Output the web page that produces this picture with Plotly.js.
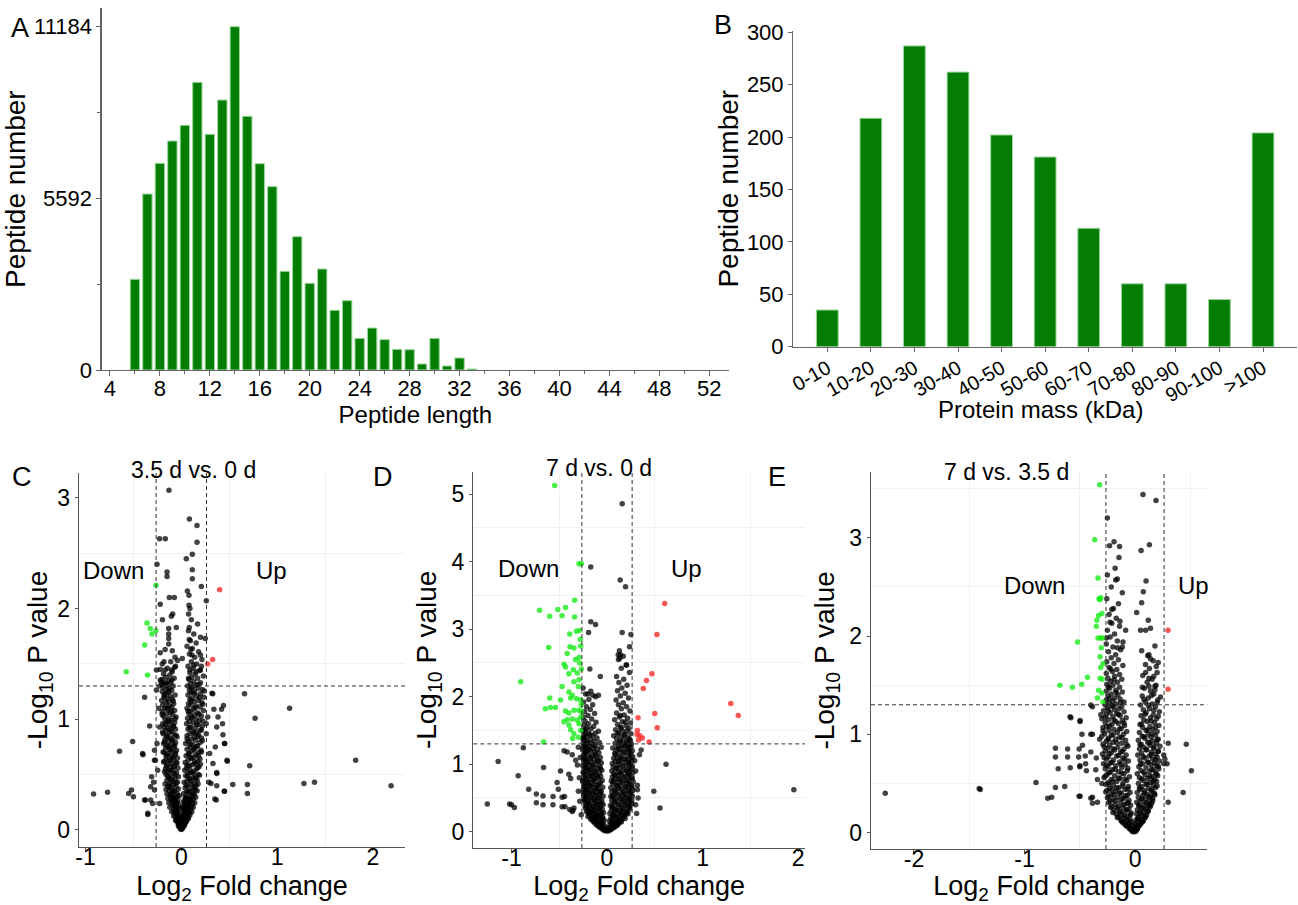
<!DOCTYPE html>
<html><head><meta charset="utf-8">
<script src="https://cdn.plot.ly/plotly-3.0.1.min.js"></script>
<style>html,body{margin:0;padding:0;background:#fff}#chart{width:1298px;height:905px}</style>
</head><body><div id="chart"></div>
<script>
// ---------- Panel A: peptide length distribution ----------
const lenCats = [6,7,8,9,10,11,12,13,14,15,16,17,18,19,20,21,22,23,24,25,26,27,28,29,30,31,32,33];
const lenCounts = [2953,5733,6732,7459,7970,9370,7677,8795,11184,8263,6721,5972,3214,4343,2823,3290,1944,2258,1031,1368,988,673,662,195,1031,130,391,33];
const lenYTicks = [0,5592,11184];
const lenYMinor = [2796,8388];

// ---------- Panel B: protein mass distribution ----------
const massCats = ['0-10','10-20','20-30','30-40','40-50','50-60','60-70','70-80','80-90','90-100','>100'];
const massCounts = [35,218,287,262,202,181,113,60,60,45,204];

// ---------- thresholds ----------
const fcCut = 0.263, pCut = 1.301;

// ---------- Panel C: 3.5 d vs. 0 d ----------
const cUp = [[0.40,2.17],[0.327,1.54],[0.275,1.50]];
const cDown = [[-0.265,2.21],[-0.358,1.87],[-0.324,1.82],[-0.306,1.77],[-0.265,1.80],[-0.383,1.67],[-0.575,1.43],[-0.352,1.40]];
const cScatter = [[-0.129,3.07],[0.084,2.81],[0.164,2.75],[-0.227,2.63],[-0.167,2.63],[0.164,2.60],[0.115,2.49],[0.052,2.45],[-0.254,2.40],[0.115,2.35],[-0.149,2.33],[-0.149,2.29],[0.115,2.27],[0.209,2.20],[0.063,2.16],[0.08,2.12],[-0.125,2.10],[-0.073,2.10],[-0.22,2.04],[0.261,2.07],[0.08,2.03],[-0.09,1.95],[-0.104,1.93],[0.076,1.95],[-0.197,1.90],[-0.132,1.82],[-0.132,1.77],[-0.052,1.83],[0.083,1.83],[0.25,1.73],[-0.132,1.73],[-0.132,1.68],[0.083,1.72],[0.10,1.63],[0.11,1.58],[-0.169,1.63],[-0.094,1.62],[-0.22,1.60],[-0.066,1.56],[0.01,1.55],[0.20,1.58],[-0.18,1.52],[-0.11,1.52],[-0.04,1.53],[0.13,1.49],[0.21,1.48],[-0.26,1.445],[-0.22,1.45],[-0.17,1.445],[-0.1,1.445],[-0.07,1.47],[0.09,1.445],[0.155,1.43],[0.2,1.445],[-0.22,1.355],[-0.1,1.355],[0.075,1.37],
[0.66,1.23],[1.13,1.10],[0.77,1.01],[1.82,0.63],[0.714,0.58],[1.28,0.42],[1.39,0.43],[2.19,0.40],[0.69,0.41],[0.69,0.33],[0.537,0.41],[0.45,0.35],[0.48,0.62],[0.453,0.78],[0.435,0.86],[0.383,1.02],[0.43,0.96],[0.44,1.125],[0.328,1.23],[0.35,0.28],[0.37,0.51],
[-0.916,0.325],[-0.77,0.34],[-0.645,0.71],[-0.508,0.80],[-0.55,0.33],[-0.52,0.36],[-0.5,0.30],[-0.404,0.69],[-0.40,0.68],[-0.383,1.20],[-0.383,0.27],[-0.35,0.14],[-0.33,0.94],[-0.28,0.72],[-0.28,0.63],[-0.32,0.39],[-0.30,0.24],
[0.32,1.235],[0.34,1.09],[0.42,1.09],[0.37,0.93],[0.45,0.78],[0.355,0.75],[0.477,0.63],[0.33,0.60],[0.37,0.52],[0.29,0.43],[0.31,0.42],[0.37,0.40],[0.45,0.35],[0.365,0.27],[0.276,1.02],[0.26,0.96],[0.26,0.87],[0.296,0.69],
[-0.31,0.48],[-0.29,0.43],[-0.376,0.27],[-0.32,0.27],[-0.35,0.15],[-0.226,0.93],[-0.254,0.78],[-0.27,0.63],[-0.247,0.54],[-0.28,0.36],[-0.226,0.24],[-0.236,1.10],[-0.26,1.265],[-0.2,1.36],[-0.226,1.30],[-0.167,1.33]];
const cApex = [[0,0.005],[0.01,0.02],[-0.01,0.03],[0.015,0.04],[-0.02,0.05],[0.025,0.06],[0.005,0.07],[-0.03,0.08],[0.03,0.09],[-0.015,0.1],[0.04,0.11],[0.01,0.12],[-0.04,0.13],[0.045,0.14],[0.02,0.15],[-0.05,0.16],[0.055,0.17],[0.03,0.18],[-0.06,0.19],[0.065,0.2],[0.015,0.21],[-0.07,0.22],[0.04,0.23],[0.075,0.24],[-0.045,0.25],[0.025,0.26],[-0.08,0.27],[0.085,0.28],[0.05,0.29],[-0.09,0.3]];
const cLeft = [[-0.01,0.01],[-0.02,0.03],[-0.005,0.04],[-0.03,0.05],[-0.015,0.06],[-0.04,0.07],[-0.025,0.08],[-0.05,0.09],[-0.01,0.10],[-0.035,0.11],[-0.06,0.12],[-0.02,0.13],[-0.045,0.14],[-0.07,0.15],[-0.03,0.16],[-0.055,0.17],[-0.08,0.18],[-0.015,0.19],[-0.04,0.2],[-0.065,0.21],[-0.09,0.22],[-0.025,0.23],[-0.05,0.24],[-0.1,0.25],[-0.075,0.26],[-0.035,0.27],[-0.11,0.28],[-0.06,0.29],[-0.085,0.3],[-0.02,0.31],[-0.12,0.32],[-0.045,0.33],[-0.095,0.34],[-0.07,0.35],[-0.13,0.36],[-0.03,0.37],[-0.105,0.38],[-0.055,0.39],[-0.14,0.4],[-0.08,0.41],[-0.12,0.42],[-0.04,0.43],[-0.095,0.44],[-0.15,0.45],[-0.065,0.46],[-0.13,0.47],[-0.03,0.48],[-0.11,0.49],[-0.16,0.5],[-0.075,0.51],[-0.05,0.52],[-0.14,0.53],[-0.095,0.54],[-0.165,0.55],[-0.035,0.56],[-0.12,0.57],[-0.07,0.58],[-0.15,0.59],[-0.1,0.6],[-0.055,0.61],[-0.175,0.62],[-0.13,0.63],[-0.085,0.64],[-0.04,0.65],[-0.16,0.66],[-0.11,0.67],[-0.065,0.68],[-0.14,0.69],[-0.18,0.7],[-0.095,0.71],[-0.05,0.72],[-0.125,0.73],[-0.165,0.74],[-0.075,0.75],[-0.15,0.76],[-0.105,0.77],[-0.185,0.78],[-0.06,0.79],[-0.135,0.8],[-0.09,0.81],[-0.17,0.82],[-0.115,0.83],[-0.045,0.84],[-0.155,0.85],[-0.075,0.86],[-0.19,0.87],[-0.125,0.88],[-0.1,0.89],[-0.16,0.9],[-0.06,0.91],[-0.14,0.92],[-0.18,0.93],[-0.085,0.94],[-0.12,0.95],[-0.195,0.96],[-0.07,0.97],[-0.15,0.98],[-0.105,0.99],[-0.17,1.0],[-0.13,1.01],[-0.055,1.02],[-0.19,1.03],[-0.09,1.04],[-0.155,1.05],[-0.115,1.06],[-0.2,1.07],[-0.07,1.08],[-0.14,1.09],[-0.175,1.1],[-0.1,1.11],[-0.125,1.12],[-0.195,1.13],[-0.08,1.14],[-0.16,1.15],[-0.135,1.16],[-0.205,1.17],[-0.095,1.18],[-0.15,1.19],[-0.18,1.2],[-0.115,1.21],[-0.065,1.22],[-0.17,1.23],[-0.14,1.24],[-0.2,1.25],[-0.1,1.26],[-0.155,1.27],[-0.125,1.28],[-0.19,1.29],[-0.085,1.3],[-0.145,1.31],[-0.17,1.32],[-0.11,1.33],[-0.21,1.34],[-0.13,1.35],[-0.075,1.37],[-0.16,1.38],[-0.12,1.4],[-0.185,1.41],[-0.095,1.43],[-0.145,1.46],[-0.06,1.48],[-0.2,1.5]];
const cRight = [[0.01,0.01],[0.02,0.03],[0.035,0.05],[0.015,0.06],[0.045,0.07],[0.025,0.08],[0.06,0.09],[0.035,0.1],[0.015,0.11],[0.07,0.12],[0.05,0.13],[0.025,0.14],[0.085,0.15],[0.06,0.16],[0.035,0.17],[0.095,0.18],[0.07,0.19],[0.02,0.2],[0.105,0.21],[0.045,0.22],[0.08,0.23],[0.115,0.24],[0.03,0.25],[0.06,0.26],[0.095,0.27],[0.125,0.28],[0.04,0.29],[0.075,0.3],[0.11,0.31],[0.135,0.32],[0.025,0.33],[0.055,0.34],[0.09,0.35],[0.145,0.36],[0.12,0.37],[0.04,0.38],[0.07,0.39],[0.155,0.4],[0.1,0.41],[0.13,0.42],[0.03,0.43],[0.06,0.44],[0.165,0.45],[0.085,0.46],[0.115,0.47],[0.145,0.48],[0.045,0.49],[0.175,0.5],[0.07,0.51],[0.1,0.52],[0.13,0.53],[0.035,0.54],[0.16,0.55],[0.055,0.56],[0.185,0.57],[0.085,0.58],[0.115,0.59],[0.145,0.6],[0.04,0.61],[0.17,0.62],[0.07,0.63],[0.195,0.64],[0.1,0.65],[0.13,0.66],[0.05,0.67],[0.155,0.68],[0.08,0.69],[0.18,0.7],[0.11,0.71],[0.205,0.72],[0.06,0.73],[0.14,0.74],[0.09,0.75],[0.17,0.76],[0.12,0.77],[0.045,0.78],[0.195,0.79],[0.075,0.8],[0.15,0.81],[0.105,0.82],[0.21,0.83],[0.135,0.84],[0.06,0.85],[0.18,0.86],[0.09,0.87],[0.16,0.88],[0.12,0.89],[0.2,0.9],[0.07,0.91],[0.145,0.92],[0.1,0.93],[0.22,0.94],[0.175,0.95],[0.055,0.96],[0.125,0.97],[0.085,0.98],[0.19,0.99],[0.155,1.0],[0.065,1.01],[0.11,1.02],[0.21,1.03],[0.14,1.04],[0.08,1.05],[0.17,1.06],[0.095,1.07],[0.23,1.08],[0.125,1.09],[0.06,1.1],[0.195,1.11],[0.155,1.12],[0.1,1.13],[0.075,1.14],[0.215,1.15],[0.135,1.16],[0.18,1.17],[0.09,1.18],[0.115,1.19],[0.235,1.2],[0.16,1.21],[0.07,1.22],[0.2,1.23],[0.105,1.24],[0.14,1.25],[0.085,1.26],[0.22,1.27],[0.175,1.28],[0.12,1.29],[0.065,1.3],[0.155,1.31],[0.095,1.32],[0.2,1.33],[0.13,1.34],[0.08,1.36],[0.17,1.37],[0.11,1.38],[0.23,1.39],[0.145,1.41],[0.09,1.42],[0.19,1.44],[0.125,1.46],[0.07,1.48],[0.16,1.5],[0.105,1.52],[0.215,1.54],[0.14,1.56],[0.085,1.59],[0.18,1.61],[0.115,1.64],[0.06,1.66],[0.155,1.69],[0.095,1.71],[0.2,1.74],[0.13,1.77],[0.075,1.8],[0.17,1.86],[0.105,1.9],[0.09,2.0]];
const cFill = [[-0.03,0.035],[-0.06,0.085],[-0.08,0.125],[-0.1,0.165],[-0.12,0.205],[-0.045,0.195],[-0.13,0.245],[-0.065,0.235],[-0.14,0.285],[-0.09,0.275],[-0.15,0.325],[-0.11,0.315],[-0.045,0.305],[-0.16,0.365],[-0.085,0.355],[-0.125,0.395],[-0.055,0.425],[-0.17,0.415],[-0.1,0.455],[-0.14,0.485],[-0.06,0.495],[-0.175,0.525],[-0.115,0.535],[-0.08,0.565],[-0.155,0.575],[-0.045,0.605],[-0.185,0.615],[-0.12,0.625],[-0.09,0.655],[-0.15,0.675],[-0.06,0.695],[-0.19,0.705],[-0.11,0.725],[-0.135,0.755],[-0.07,0.765],[-0.175,0.795],[-0.1,0.815],[-0.145,0.845],[-0.055,0.855],[-0.195,0.885],[-0.115,0.905],[-0.08,0.935],[-0.165,0.955],[-0.13,0.985],[-0.065,1.005],[-0.2,1.045],[-0.105,1.075],[-0.15,1.105],[-0.085,1.165],[-0.18,1.215],[-0.13,1.255],[-0.2,1.315],
[0.03,0.035],[0.05,0.075],[0.075,0.105],[0.09,0.135],[0.11,0.165],[0.045,0.185],[0.125,0.205],[0.07,0.225],[0.14,0.245],[0.1,0.265],[0.05,0.285],[0.15,0.295],[0.12,0.325],[0.075,0.345],[0.165,0.355],[0.135,0.385],[0.05,0.405],[0.175,0.415],[0.1,0.445],[0.15,0.465],[0.065,0.485],[0.19,0.495],[0.12,0.515],[0.09,0.545],[0.17,0.565],[0.06,0.585],[0.2,0.595],[0.14,0.615],[0.11,0.645],[0.18,0.665],[0.075,0.685],[0.21,0.705],[0.13,0.725],[0.16,0.755],[0.095,0.775],[0.22,0.805],[0.06,0.825],[0.17,0.845],[0.13,0.875],[0.21,0.905],[0.085,0.925],[0.16,0.955],[0.225,0.985],[0.11,1.015],[0.185,1.045],[0.07,1.075],[0.145,1.105],[0.225,1.135],[0.1,1.165],[0.19,1.195],[0.13,1.235],[0.24,1.255],[0.1,1.285],[0.18,1.315]];

// ---------- Panel D: 7 d vs. 0 d ----------
const dUp = [[0.604,3.38],[0.523,2.92],[0.47,2.34],[0.413,2.24],[0.38,2.12],[0.50,1.75],[0.526,1.54],[0.325,1.69],[0.318,1.50],[0.343,1.42],[0.37,1.39],[0.44,1.33],[0.314,1.44],[1.296,1.90],[1.374,1.72],[0.33,1.36]];
const dDown = [[-0.548,5.13],[-0.293,3.97],[-0.268,3.97],[-0.339,3.43],[-0.706,3.28],[-0.515,3.29],[-0.434,3.32],[-0.60,3.19],[-0.47,3.20],[-0.339,3.18],[-0.39,2.93],[-0.32,2.97],[-0.286,2.98],[-0.61,2.73],[-0.388,2.74],[-0.346,2.72],[-0.275,2.75],[-0.417,2.64],[-0.45,2.48],[-0.434,2.44],[-0.293,2.58],[-0.286,2.50],[-0.353,2.40],[-0.399,2.34],[-0.311,2.35],[-0.268,2.41],[-0.904,2.22],[-0.47,2.15],[-0.399,2.07],[-0.364,2.02],[-0.30,2.15],[-0.346,2.22],[-0.293,2.25],[-0.60,1.98],[-0.487,1.95],[-0.381,1.98],[-0.318,1.97],[-0.275,1.95],[-0.646,1.82],[-0.593,1.84],[-0.54,1.84],[-0.434,1.79],[-0.399,1.76],[-0.346,1.80],[-0.293,1.80],[-0.268,1.78],[-0.452,1.63],[-0.417,1.66],[-0.364,1.67],[-0.311,1.65],[-0.275,1.70],[-0.399,1.58],[-0.293,1.60],[-0.381,1.51],[-0.346,1.45],[-0.275,1.50],[-0.664,1.33],[-0.36,1.38],[-0.30,1.40],[-0.27,1.88],[-0.33,2.55],[-0.28,2.85]];
const dScatter = [[0.159,4.86],[-0.17,3.92],[0.138,3.73],[0.194,3.63],[-0.17,3.11],[-0.12,3.07],[-0.193,2.95],[0.159,2.95],[0.25,2.92],[0.236,2.74],[0.117,2.62],[0.134,2.57],[0.205,2.47],[-0.18,2.41],[-0.07,2.30],[-0.2,2.04],[-0.148,2.02],[-0.09,2.02],[-0.876,1.245],[-0.93,0.83],[-0.664,0.95],[-0.82,0.63],[-0.74,0.56],[-0.67,0.53],[-0.565,0.52],[-0.47,0.51],[-0.445,0.52],[-0.487,0.90],[-0.40,0.85],[-0.38,0.79],[-0.523,0.73],[-0.51,0.63],[-0.45,1.20],[-0.417,1.18],[-0.364,1.14],[-0.328,1.06],[-0.31,0.99],[-0.346,0.35],[-0.364,0.30],[-1.0,0.40],[-1.14,1.04],[-1.253,0.41],[-1.02,0.41],[-0.97,0.36],[-0.74,0.43],[-0.67,0.40],[-0.566,0.40],[-0.47,0.37],[-0.44,0.37],[-0.39,0.33],[-0.357,0.32],[-0.30,1.25],[-0.28,1.1],[-0.29,0.8],[-0.3,0.6],[-0.285,0.45],[-0.27,0.25],[0.618,1.0],[0.49,0.60],[0.555,0.35],[1.956,0.62],[0.357,1.21],[0.34,1.14],[0.318,0.69],[0.318,0.62],[0.325,0.5],[0.31,0.27],[0.3,0.9],[0.29,1.05],[0.3,0.4]];
const dLeft = [[-0.01,0.01],[-0.03,0.02],[-0.02,0.03],[-0.05,0.04],[-0.04,0.05],[-0.07,0.06],[-0.02,0.07],[-0.09,0.08],[-0.06,0.09],[-0.11,0.1],[-0.035,0.11],[-0.08,0.12],[-0.13,0.13],[-0.05,0.14],[-0.1,0.15],[-0.15,0.16],[-0.03,0.17],[-0.12,0.18],[-0.07,0.19],[-0.165,0.2],[-0.045,0.21],[-0.14,0.22],[-0.09,0.23],[-0.18,0.24],[-0.06,0.25],[-0.115,0.26],[-0.19,0.27],[-0.035,0.28],[-0.155,0.29],[-0.08,0.3],[-0.2,0.31],[-0.13,0.32],[-0.05,0.33],[-0.175,0.34],[-0.1,0.35],[-0.21,0.36],[-0.07,0.37],[-0.145,0.38],[-0.22,0.39],[-0.04,0.4],[-0.185,0.41],[-0.115,0.42],[-0.23,0.43],[-0.085,0.44],[-0.16,0.45],[-0.2,0.46],[-0.055,0.47],[-0.235,0.48],[-0.13,0.49],[-0.1,0.5],[-0.215,0.51],[-0.17,0.52],[-0.04,0.53],[-0.245,0.54],[-0.075,0.55],[-0.14,0.56],[-0.195,0.57],[-0.11,0.58],[-0.23,0.59],[-0.06,0.6],[-0.165,0.61],[-0.25,0.62],[-0.09,0.63],[-0.21,0.64],[-0.125,0.65],[-0.045,0.66],[-0.18,0.67],[-0.24,0.68],[-0.1,0.69],[-0.15,0.7],[-0.225,0.71],[-0.07,0.72],[-0.195,0.73],[-0.125,0.74],[-0.255,0.75],[-0.05,0.76],[-0.17,0.77],[-0.21,0.78],[-0.09,0.79],[-0.14,0.8],[-0.24,0.81],[-0.065,0.82],[-0.185,0.83],[-0.115,0.84],[-0.225,0.85],[-0.155,0.86],[-0.08,0.87],[-0.25,0.88],[-0.2,0.89],[-0.13,0.9],[-0.055,0.91],[-0.17,0.92],[-0.235,0.93],[-0.1,0.94],[-0.215,0.95],[-0.145,0.96],[-0.075,0.97],[-0.255,0.98],[-0.19,0.99],[-0.12,1.0],[-0.23,1.01],[-0.06,1.02],[-0.16,1.03],[-0.205,1.04],[-0.09,1.05],[-0.245,1.06],[-0.135,1.07],[-0.18,1.08],[-0.225,1.09],[-0.07,1.1],[-0.11,1.11],[-0.25,1.12],[-0.155,1.13],[-0.2,1.14],[-0.235,1.16],[-0.085,1.17],[-0.13,1.18],[-0.22,1.19],[-0.175,1.2],[-0.255,1.21],[-0.1,1.22],[-0.145,1.23],[-0.21,1.24],[-0.06,1.25],[-0.24,1.26],[-0.19,1.27],[-0.12,1.28],[-0.225,1.29],[-0.16,1.3],[-0.25,1.31],[-0.08,1.32],[-0.2,1.33],[-0.135,1.34],[-0.235,1.36],[-0.17,1.37],[-0.255,1.38],[-0.105,1.39],[-0.215,1.4],[-0.15,1.42],[-0.24,1.43],[-0.19,1.45],[-0.125,1.46],[-0.225,1.47],[-0.09,1.49],[-0.255,1.5],[-0.17,1.52],[-0.21,1.54],[-0.14,1.56],[-0.245,1.58],[-0.195,1.6],[-0.115,1.62],[-0.23,1.64],[-0.16,1.67],[-0.25,1.7],[-0.2,1.72],[-0.13,1.75],[-0.235,1.78],[-0.175,1.81],[-0.215,1.85],[-0.15,1.88],[-0.245,1.92],[-0.19,1.96],[-0.12,2.0],[-0.225,2.04],[-0.17,2.08],[-0.25,2.13]];
const dRight = [[0.01,0.01],[0.02,0.02],[0.04,0.03],[0.03,0.04],[0.06,0.05],[0.015,0.06],[0.08,0.07],[0.05,0.08],[0.1,0.09],[0.03,0.1],[0.07,0.11],[0.12,0.12],[0.045,0.13],[0.095,0.14],[0.14,0.15],[0.025,0.16],[0.115,0.17],[0.065,0.18],[0.16,0.19],[0.04,0.2],[0.135,0.21],[0.085,0.22],[0.18,0.23],[0.055,0.24],[0.11,0.25],[0.2,0.26],[0.03,0.27],[0.155,0.28],[0.075,0.29],[0.215,0.3],[0.125,0.31],[0.045,0.32],[0.175,0.33],[0.095,0.34],[0.23,0.35],[0.06,0.36],[0.145,0.37],[0.24,0.38],[0.035,0.39],[0.195,0.4],[0.11,0.41],[0.25,0.42],[0.075,0.43],[0.165,0.44],[0.215,0.45],[0.05,0.46],[0.26,0.47],[0.13,0.48],[0.09,0.49],[0.235,0.5],[0.18,0.51],[0.04,0.52],[0.265,0.53],[0.065,0.54],[0.15,0.55],[0.205,0.56],[0.1,0.57],[0.25,0.58],[0.05,0.59],[0.17,0.6],[0.27,0.61],[0.08,0.62],[0.225,0.63],[0.12,0.64],[0.04,0.65],[0.19,0.66],[0.26,0.67],[0.095,0.68],[0.145,0.69],[0.24,0.7],[0.06,0.71],[0.21,0.72],[0.115,0.73],[0.275,0.74],[0.045,0.75],[0.165,0.76],[0.23,0.77],[0.08,0.78],[0.135,0.79],[0.255,0.8],[0.055,0.81],[0.195,0.82],[0.1,0.83],[0.24,0.84],[0.15,0.85],[0.07,0.86],[0.27,0.87],[0.215,0.88],[0.12,0.89],[0.05,0.9],[0.175,0.91],[0.25,0.92],[0.09,0.93],[0.23,0.94],[0.14,0.95],[0.065,0.96],[0.265,0.97],[0.2,0.98],[0.11,0.99],[0.245,1.0],[0.055,1.01],[0.16,1.02],[0.22,1.03],[0.085,1.04],[0.26,1.05],[0.13,1.06],[0.185,1.07],[0.24,1.08],[0.07,1.09],[0.105,1.1],[0.27,1.11],[0.155,1.12],[0.21,1.13],[0.25,1.15],[0.08,1.16],[0.125,1.17],[0.23,1.18],[0.17,1.19],[0.265,1.2],[0.095,1.21],[0.14,1.22],[0.215,1.23],[0.06,1.24],[0.25,1.25],[0.19,1.26],[0.115,1.27],[0.235,1.28],[0.16,1.29],[0.255,1.3],[0.085,1.31],[0.205,1.32],[0.13,1.33],[0.245,1.35],[0.175,1.36],[0.1,1.38],[0.22,1.39],[0.145,1.41],[0.07,1.42],[0.19,1.44],[0.25,1.45],[0.12,1.47],[0.165,1.49],[0.09,1.51],[0.23,1.53],[0.14,1.55],[0.2,1.57],[0.11,1.59],[0.245,1.61],[0.16,1.63],[0.08,1.66],[0.215,1.68],[0.13,1.7],[0.18,1.73],[0.1,1.76],[0.24,1.79],[0.15,1.82],[0.205,1.85],[0.12,1.88],[0.17,1.91],[0.095,1.95],[0.225,1.98],[0.14,2.01],[0.19,2.05],[0.11,2.09],[0.155,2.13],[0.21,2.17],[0.125,2.21],[0.175,2.26],[0.1,2.3],[0.235,2.36],[0.15,2.42],[0.2,2.47],[0.12,2.55],[0.17,2.6],[0.13,2.68],[0.14,2.62]];
const dFill = [[-0.04,0.035],[-0.08,0.075],[-0.1,0.115],[-0.06,0.115],[-0.14,0.155],[-0.08,0.165],[-0.17,0.185],[-0.12,0.205],[-0.05,0.195],[-0.2,0.225],[-0.1,0.245],[-0.15,0.265],[-0.06,0.275],[-0.215,0.295],[-0.12,0.305],[-0.17,0.325],[-0.08,0.345],[-0.23,0.355],[-0.14,0.375],[-0.195,0.395],[-0.1,0.405],[-0.055,0.425],[-0.21,0.445],[-0.13,0.455],[-0.24,0.475],[-0.165,0.495],[-0.08,0.505],[-0.225,0.525],[-0.12,0.545],[-0.185,0.565],[-0.25,0.585],[-0.07,0.585],[-0.145,0.605],[-0.21,0.625],[-0.11,0.645],[-0.24,0.665],[-0.17,0.685],[-0.085,0.705],[-0.2,0.725],[-0.255,0.745],[-0.14,0.765],[-0.225,0.795],[-0.1,0.815],[-0.165,0.835],[-0.245,0.865],[-0.12,0.885],[-0.19,0.915],[-0.07,0.935],[-0.23,0.955],[-0.155,0.985],[-0.21,1.025],[-0.1,1.045],[-0.24,1.085],[-0.17,1.105],[-0.12,1.145],[-0.225,1.175],[-0.19,1.215],[-0.25,1.245],[-0.14,1.275],[-0.21,1.315],[-0.24,1.395],[-0.18,1.435],[-0.23,1.515],
[0.035,0.035],[0.07,0.065],[0.05,0.085],[0.11,0.105],[0.08,0.125],[0.15,0.145],[0.06,0.155],[0.12,0.175],[0.19,0.195],[0.1,0.215],[0.16,0.235],[0.07,0.255],[0.22,0.265],[0.135,0.285],[0.19,0.305],[0.09,0.325],[0.24,0.335],[0.16,0.355],[0.055,0.375],[0.21,0.385],[0.125,0.405],[0.26,0.415],[0.18,0.435],[0.085,0.455],[0.235,0.465],[0.15,0.485],[0.2,0.505],[0.06,0.515],[0.25,0.535],[0.12,0.545],[0.18,0.575],[0.23,0.595],[0.085,0.605],[0.145,0.625],[0.26,0.645],[0.2,0.665],[0.11,0.685],[0.25,0.705],[0.165,0.725],[0.07,0.745],[0.21,0.755],[0.125,0.775],[0.265,0.795],[0.18,0.815],[0.085,0.835],[0.23,0.855],[0.14,0.875],[0.2,0.905],[0.26,0.935],[0.1,0.945],[0.165,0.975],[0.23,1.015],[0.12,1.035],[0.2,1.065],[0.145,1.095],[0.25,1.125],[0.09,1.145],[0.185,1.175],[0.23,1.215],[0.12,1.235],[0.17,1.275],[0.21,1.305],[0.14,1.345],[0.235,1.375],[0.18,1.425],[0.11,1.455],[0.21,1.495],[0.15,1.535],[0.19,1.625],[0.14,1.72]];

// ---------- Panel E: 7 d vs. 3.5 d ----------
const eUp = [[0.299,2.06],[0.299,1.46]];
const eDown = [[-0.32,3.54],[-0.365,2.98],[-0.335,2.59],[-0.325,2.38],[-0.31,2.39],[-0.318,2.37],[-0.33,2.21],[-0.345,2.16],[-0.35,2.10],[-0.52,1.94],[-0.335,1.98],[-0.31,1.98],[-0.296,1.98],[-0.316,1.79],[-0.31,1.68],[-0.316,1.57],[-0.296,1.56],[-0.43,1.58],[-0.482,1.51],[-0.567,1.48],[-0.68,1.50],[-0.33,1.45],[-0.30,1.42],[-0.34,1.37],[-0.29,1.33],[-0.30,2.23],[-0.305,1.88],[-0.29,1.72]];
const eScatter = [[0.072,3.44],[0.19,3.38],[-0.25,3.20],[-0.19,2.96],[-0.14,2.91],[-0.23,2.92],[0.13,2.93],[0.055,2.87],[-0.145,2.80],[-0.18,2.69],[-0.25,2.62],[-0.16,2.58],[0.10,2.56],[-0.115,2.44],[0.075,2.45],[0.06,2.34],[-0.21,2.27],[0.015,2.24],[-0.226,2.14],[-0.085,2.06],[-0.136,2.15],[0.12,2.16],[0.14,2.08],[0.096,2.06],[0.05,2.06],[-0.26,1.98],[-0.109,1.94],[-0.115,1.89],[-0.16,1.88],[0.21,1.73],[0.192,1.69],[0.126,1.81],[0.14,1.77],[0.096,1.63],[0.17,1.59],[0.126,1.57],[0.18,1.49],[0.126,1.49],[0.066,1.48],[0.23,1.38],
[-0.40,1.30],[-0.385,1.28],[-0.58,1.17],[-0.497,1.14],[-0.40,1.0],[-0.385,1.0],[-0.475,0.89],[-0.61,0.85],[-0.61,0.77],[-0.51,0.77],[-0.45,0.78],[-0.40,0.82],[-0.35,0.76],[-0.586,0.66],[-0.498,0.68],[-0.447,0.70],[-0.44,0.63],[-0.355,0.64],[-0.34,0.54],[-0.636,0.47],[-0.754,0.36],[-0.497,0.37],[-0.40,0.35],[-0.385,0.36],[-0.385,0.30],[-0.34,0.31],
[-2.26,0.40],[-1.41,0.45],[-1.40,0.44],[-0.896,0.51],[-0.79,0.35],[-0.72,0.46],[-0.588,1.18],[-0.72,0.86],[-0.72,0.77],[-0.695,0.65],[-0.498,1.13],[-0.506,0.85],[-0.50,0.67],[-0.506,0.37],[-0.48,1.0],
[0.464,0.90],[0.51,0.63],[0.435,0.41],[0.30,0.91],[0.30,0.31],[0.29,0.70],[0.26,0.70],[0.26,0.79],[0.27,0.75],[-0.31,1.2],[-0.32,0.95],[-0.3,0.5]];
const eLeft = [[-0.02,0.01],[-0.03,0.02],[-0.01,0.03],[-0.05,0.04],[-0.035,0.05],[-0.07,0.06],[-0.02,0.07],[-0.09,0.08],[-0.055,0.09],[-0.11,0.1],[-0.03,0.11],[-0.08,0.12],[-0.13,0.13],[-0.045,0.14],[-0.1,0.15],[-0.15,0.16],[-0.065,0.17],[-0.12,0.18],[-0.17,0.19],[-0.035,0.2],[-0.14,0.21],[-0.085,0.22],[-0.19,0.23],[-0.055,0.24],[-0.16,0.25],[-0.11,0.26],[-0.21,0.27],[-0.04,0.28],[-0.18,0.29],[-0.075,0.3],[-0.13,0.31],[-0.225,0.32],[-0.055,0.33],[-0.2,0.34],[-0.1,0.35],[-0.155,0.36],[-0.24,0.37],[-0.07,0.38],[-0.215,0.39],[-0.125,0.4],[-0.045,0.41],[-0.175,0.42],[-0.255,0.43],[-0.09,0.44],[-0.23,0.45],[-0.145,0.46],[-0.06,0.47],[-0.195,0.48],[-0.265,0.49],[-0.11,0.5],[-0.245,0.51],[-0.165,0.52],[-0.075,0.53],[-0.215,0.54],[-0.135,0.55],[-0.28,0.56],[-0.05,0.57],[-0.185,0.58],[-0.255,0.59],[-0.1,0.6],[-0.235,0.61],[-0.15,0.62],[-0.07,0.63],[-0.205,0.64],[-0.27,0.65],[-0.12,0.66],[-0.245,0.67],[-0.175,0.68],[-0.09,0.69],[-0.285,0.7],[-0.225,0.71],[-0.14,0.72],[-0.06,0.73],[-0.195,0.74],[-0.26,0.75],[-0.11,0.76],[-0.24,0.77],[-0.165,0.78],[-0.08,0.79],[-0.295,0.8],[-0.215,0.81],[-0.13,0.82],[-0.27,0.83],[-0.185,0.84],[-0.1,0.85],[-0.25,0.86],[-0.155,0.87],[-0.065,0.88],[-0.23,0.89],[-0.29,0.9],[-0.12,0.91],[-0.2,0.92],[-0.26,0.93],[-0.085,0.94],[-0.175,0.95],[-0.24,0.96],[-0.14,0.97],[-0.3,0.98],[-0.215,0.99],[-0.105,1.0],[-0.275,1.01],[-0.16,1.02],[-0.075,1.03],[-0.235,1.04],[-0.19,1.05],[-0.125,1.06],[-0.29,1.07],[-0.255,1.08],[-0.095,1.09],[-0.21,1.1],[-0.15,1.11],[-0.27,1.12],[-0.175,1.13],[-0.115,1.14],[-0.24,1.15],[-0.3,1.16],[-0.08,1.17],[-0.2,1.18],[-0.135,1.19],[-0.26,1.2],[-0.165,1.21],[-0.225,1.22],[-0.1,1.23],[-0.285,1.24],[-0.185,1.25],[-0.145,1.26],[-0.25,1.27],[-0.12,1.28],[-0.21,1.29],[-0.27,1.3],[-0.17,1.31],[-0.235,1.32],[-0.1,1.33],[-0.2,1.34],[-0.26,1.35],[-0.135,1.36],[-0.185,1.37],[-0.245,1.39],[-0.155,1.4],[-0.215,1.41],[-0.115,1.43],[-0.26,1.44],[-0.175,1.45],[-0.23,1.47],[-0.14,1.48],[-0.2,1.5],[-0.255,1.51],[-0.16,1.53],[-0.22,1.54],[-0.12,1.56],[-0.245,1.57],[-0.185,1.59],[-0.14,1.61],[-0.26,1.62],[-0.205,1.64],[-0.165,1.66],[-0.235,1.68],[-0.11,1.7],[-0.19,1.72],[-0.255,1.74],[-0.15,1.76],[-0.215,1.78],[-0.175,1.81],[-0.24,1.84],[-0.13,1.86],[-0.2,1.89],[-0.26,1.92],[-0.16,1.95],[-0.225,1.99],[-0.185,2.02],[-0.25,2.06],[-0.14,2.1],[-0.21,2.13],[-0.17,2.18],[-0.235,2.22],[-0.195,2.28],[-0.15,2.33],[-0.255,2.38],[-0.215,2.5],[-0.175,2.57]];
const eRight = [[0.0,0.01],[0.01,0.02],[-0.005,0.03],[0.02,0.04],[0.005,0.05],[0.03,0.06],[0.015,0.07],[0.045,0.08],[0.0,0.09],[0.06,0.1],[0.025,0.11],[0.075,0.12],[0.01,0.13],[0.05,0.14],[0.09,0.15],[0.03,0.16],[0.07,0.17],[0.105,0.18],[0.015,0.19],[0.085,0.2],[0.045,0.21],[0.12,0.22],[0.02,0.23],[0.1,0.24],[0.06,0.25],[0.135,0.26],[0.035,0.27],[0.115,0.28],[0.08,0.29],[0.15,0.3],[0.015,0.31],[0.13,0.32],[0.05,0.33],[0.095,0.34],[0.16,0.35],[0.03,0.36],[0.14,0.37],[0.07,0.38],[0.11,0.39],[0.175,0.4],[0.02,0.41],[0.155,0.42],[0.085,0.43],[0.045,0.44],[0.125,0.45],[0.185,0.46],[0.06,0.47],[0.165,0.48],[0.1,0.49],[0.03,0.5],[0.14,0.51],[0.195,0.52],[0.075,0.53],[0.175,0.54],[0.115,0.55],[0.04,0.56],[0.155,0.57],[0.205,0.58],[0.09,0.59],[0.02,0.6],[0.185,0.61],[0.13,0.62],[0.055,0.63],[0.165,0.64],[0.215,0.65],[0.1,0.66],[0.035,0.67],[0.195,0.68],[0.145,0.69],[0.07,0.7],[0.175,0.71],[0.115,0.72],[0.22,0.73],[0.045,0.74],[0.16,0.75],[0.09,0.76],[0.2,0.77],[0.13,0.78],[0.025,0.79],[0.185,0.8],[0.06,0.81],[0.15,0.82],[0.21,0.83],[0.105,0.84],[0.04,0.85],[0.17,0.86],[0.08,0.87],[0.225,0.88],[0.135,0.89],[0.055,0.9],[0.195,0.91],[0.115,0.92],[0.16,0.93],[0.03,0.94],[0.21,0.95],[0.09,0.96],[0.145,0.97],[0.065,0.98],[0.185,0.99],[0.12,1.0],[0.04,1.02],[0.2,1.03],[0.1,1.04],[0.16,1.05],[0.07,1.07],[0.135,1.08],[0.215,1.09],[0.045,1.1],[0.175,1.12],[0.11,1.13],[0.08,1.15],[0.195,1.16],[0.14,1.17],[0.055,1.19],[0.165,1.2],[0.1,1.22],[0.22,1.23],[0.075,1.25],[0.13,1.26],[0.185,1.28],[0.05,1.3],[0.155,1.31],[0.095,1.33],[0.205,1.35],[0.12,1.37],[0.065,1.39],[0.17,1.41],[0.14,1.44],[0.085,1.47],[0.19,1.5],[0.11,1.53],[0.155,1.56],[0.07,1.6],[0.2,1.63],[0.13,1.67],[0.095,1.71],[0.165,1.75],[0.115,1.8],[0.06,1.85],[0.18,1.9]];
const eFill = [[-0.04,0.035],[-0.08,0.075],[-0.05,0.095],[-0.12,0.115],[-0.07,0.135],[-0.16,0.155],[-0.095,0.175],[-0.04,0.185],[-0.2,0.205],[-0.13,0.215],[-0.075,0.235],[-0.22,0.255],[-0.15,0.265],[-0.1,0.285],[-0.24,0.305],[-0.06,0.305],[-0.175,0.325],[-0.12,0.345],[-0.25,0.355],[-0.085,0.375],[-0.19,0.385],[-0.14,0.405],[-0.265,0.415],[-0.21,0.435],[-0.065,0.445],[-0.165,0.455],[-0.11,0.475],[-0.235,0.495],[-0.2,0.525],[-0.09,0.545],[-0.15,0.555],[-0.27,0.575],[-0.12,0.605],[-0.225,0.615],[-0.18,0.645],[-0.065,0.655],[-0.26,0.685],[-0.13,0.695],[-0.21,0.715],[-0.095,0.745],[-0.28,0.765],[-0.15,0.785],[-0.235,0.805],[-0.115,0.825],[-0.2,0.855],[-0.28,0.875],[-0.075,0.895],[-0.165,0.915],[-0.245,0.945],[-0.12,0.965],[-0.2,0.995],[-0.29,1.035],[-0.14,1.055],[-0.23,1.085],[-0.1,1.115],[-0.19,1.145],[-0.27,1.175],[-0.15,1.205],[-0.24,1.245],[-0.2,1.285],[-0.13,1.325],[-0.23,1.365],[-0.17,1.425],[-0.24,1.485],[-0.19,1.555],[-0.22,1.665],
[0.02,0.035],[0.04,0.075],[0.065,0.115],[0.025,0.145],[0.095,0.165],[0.05,0.195],[0.115,0.215],[0.075,0.245],[0.14,0.275],[0.035,0.285],[0.1,0.305],[0.16,0.325],[0.06,0.345],[0.125,0.365],[0.18,0.385],[0.085,0.405],[0.145,0.435],[0.04,0.455],[0.2,0.475],[0.11,0.495],[0.165,0.525],[0.06,0.545],[0.135,0.575],[0.195,0.595],[0.08,0.615],[0.15,0.645],[0.21,0.675],[0.05,0.695],[0.12,0.715],[0.185,0.745],[0.075,0.775],[0.145,0.795],[0.21,0.825],[0.1,0.845],[0.17,0.875],[0.045,0.895],[0.13,0.915],[0.2,0.945],[0.08,0.975],[0.155,1.005],[0.115,1.045],[0.185,1.075],[0.06,1.105],[0.145,1.135],[0.21,1.185],[0.09,1.205],[0.17,1.245],[0.12,1.295],[0.2,1.325],[0.08,1.355],[0.15,1.395],[0.18,1.455]];

// ---------- build ----------
const W = 1298, H = 905;
const FONT = 'Liberation Sans, Arial, Helvetica, sans-serif';
const px = v => v / W, py = v => 1 - v / H;
const xs = a => a.map(p => p[0]), ys = a => a.map(p => p[1]);
const NS = 'rgba(0,0,0,0.74)', DOWN = 'rgba(20,235,20,0.78)', UP = 'rgba(245,40,40,0.78)';

function pts(arr, color, xa, ya) {
  return {type: 'scatter', mode: 'markers', x: xs(arr), y: ys(arr), xaxis: xa, yaxis: ya,
    marker: {color: color, size: 5.5, line: {width: 0}}, hoverinfo: 'x+y', showlegend: false};
}

const traces = [
  {type: 'bar', x: lenCats, y: lenCounts, xaxis: 'x', yaxis: 'y', width: 0.75,
   marker: {color: '#047d04', line: {color: '#9ad89a', width: 1}}, showlegend: false},
  {type: 'bar', x: massCats, y: massCounts, xaxis: 'x2', yaxis: 'y2', width: 0.5,
   marker: {color: '#047d04', line: {color: '#9ad89a', width: 1}}, showlegend: false},
  pts([...cApex, ...cLeft, ...cRight, ...cFill, ...cScatter], NS, 'x3', 'y3'),
  pts(cDown, DOWN, 'x3', 'y3'), pts(cUp, UP, 'x3', 'y3'),
  pts([...dLeft, ...dRight, ...dFill, ...dScatter], NS, 'x4', 'y4'),
  pts(dDown, DOWN, 'x4', 'y4'), pts(dUp, UP, 'x4', 'y4'),
  pts([...eLeft, ...eRight, ...eFill, ...eScatter], NS, 'x5', 'y5'),
  pts(eDown, DOWN, 'x5', 'y5'), pts(eUp, UP, 'x5', 'y5')
];

const axBase = {showline: true, linecolor: '#666', linewidth: 1.3, ticks: 'outside', ticklen: 4,
  tickcolor: '#666', tickwidth: 1, showgrid: false, zeroline: false, automargin: false,
  tickfont: {size: 22, color: '#000', family: FONT}};

function volcX(dom, anchor, rng, vals) {
  return Object.assign({}, axBase, {domain: dom, anchor: anchor, range: rng, tickmode: 'array',
    tickvals: vals, ticktext: vals.map(v => String(v)), ticklen: 3, linecolor: '#555', tickcolor: '#555',
    ticklabelstandoff: -14,
    tickfont: {size: 23, color: '#000', family: FONT},
    minor: {tickmode: 'linear', tick0: 0.5, dtick: 1, ticks: '', showgrid: true, gridcolor: '#f0f0f0', gridwidth: 1},
    title: {text: 'Log<sub>2</sub> Fold change', font: {size: 27, color: '#000', family: FONT}, standoff: 24}});
}
function volcY(dom, anchor, rng, vals, so) {
  return Object.assign({}, axBase, {domain: dom, anchor: anchor, range: rng, tickmode: 'array',
    tickvals: vals, ticktext: vals.map(v => String(v)), ticklen: 3, linecolor: '#555', tickcolor: '#555',
    tickfont: {size: 23, color: '#000', family: FONT},
    minor: {tickmode: 'linear', tick0: 0.5, dtick: 1, ticks: '', showgrid: true, gridcolor: '#f0f0f0', gridwidth: 1},
    title: {text: '-Log<sub>10</sub> P value', font: {size: 28, color: '#000', family: FONT}, standoff: so}});
}

function cutLines(xa, ya) {
  const ln = {color: '#333', width: 1, dash: '4px,3px'};
  return [
    {type: 'line', xref: xa, yref: ya + ' domain', x0: -fcCut, x1: -fcCut, y0: 0, y1: 1, line: ln},
    {type: 'line', xref: xa, yref: ya + ' domain', x0: fcCut, x1: fcCut, y0: 0, y1: 1, line: ln},
    {type: 'line', xref: xa + ' domain', yref: ya, x0: 0, x1: 1, y0: pCut, y1: pCut, line: ln}
  ];
}

function ann(text, x, y, size) {
  return {text: text, x: px(x), y: py(y), xref: 'paper', yref: 'paper', showarrow: false,
    xanchor: 'center', yanchor: 'middle', font: {size: size, color: '#000', family: FONT}};
}

const layout = {
  width: W, height: H, margin: {l: 0, r: 0, t: 0, b: 0}, paper_bgcolor: '#fff', plot_bgcolor: 'rgba(0,0,0,0)',
  font: {family: FONT, color: '#000'}, showlegend: false, bargap: 0,
  xaxis: Object.assign({}, axBase, {domain: [px(101.7), px(729)], anchor: 'y', range: [3.34, 53.58],
    tickmode: 'linear', tick0: 4, dtick: 4, ticklen: 5, ticklabelstandoff: -7,
    minor: {tickmode: 'linear', tick0: 0, dtick: 2, ticks: 'outside', ticklen: 3, tickcolor: '#666'},
    title: {text: 'Peptide length', font: {size: 24, color: '#000', family: FONT}, standoff: 0}}),
  yaxis: Object.assign({}, axBase, {domain: [py(370), py(8.3)], anchor: 'x', range: [0, 11782],
    tickmode: 'array', tickvals: lenYTicks, ticktext: lenYTicks.map(String),
    minor: {tickmode: 'array', tickvals: lenYMinor, ticks: 'outside', ticklen: 3, tickcolor: '#666'},
    title: {text: 'Peptide number', font: {size: 28, color: '#000', family: FONT}, standoff: 0}}),
  xaxis2: Object.assign({}, axBase, {domain: [px(793.3), px(1297)], anchor: 'y2', type: 'category',
    range: [-0.78, 10.78], tickangle: -30, ticklabelstandoff: -3, tickfont: {size: 20, color: '#000', family: FONT}}),
  yaxis2: Object.assign({}, axBase, {domain: [py(346.7), py(30.7)], anchor: 'x2', range: [0, 301.5],
    tickmode: 'linear', tick0: 0, dtick: 50,
    title: {text: 'Peptide number', font: {size: 28, color: '#000', family: FONT}, standoff: 0}}),
  xaxis3: volcX([px(79), px(405)], 'y3', [-1.068, 2.335], [-1, 0, 1, 2]),
  yaxis3: volcY([py(847), py(473)], 'x3', [-0.154, 3.225], [0, 1, 2, 3], 0),
  xaxis4: volcX([px(473.3), px(805)], 'y4', [-1.40, 2.073], [-1, 0, 1, 2]),
  yaxis4: volcY([py(848), py(471.7)], 'x4', [-0.241, 5.333], [0, 1, 2, 3, 4, 5], 6),
  xaxis5: volcX([px(871), px(1207.3)], 'y5', [-2.389, 0.654], [-2, -1, 0]),
  yaxis5: volcY([py(849), py(471.7)], 'x5', [-0.166, 3.672], [0, 1, 2, 3], 6),
  shapes: [...cutLines('x3', 'y3'), ...cutLines('x4', 'y4'), ...cutLines('x5', 'y5')],
  annotations: [
    ann('A', 20, 28, 27), ann('B', 723, 25, 27), ann('C', 22, 477, 27), ann('D', 383, 477, 27), ann('E', 777, 477, 27),
    ann('Protein mass (kDa)', 1040, 410, 24),
    ann('3.5 d vs. 0 d', 193, 470, 23), ann('7 d vs. 0 d', 599, 468, 23), ann('7 d vs. 3.5 d', 1006, 472, 23),
    ann('Down', 113, 570, 24), ann('Up', 271, 570, 24),
    ann('Down', 528, 568, 24), ann('Up', 686, 568, 24),
    ann('Down', 1034, 585, 24), ann('Up', 1193, 585, 24)
  ]
};

Plotly.newPlot('chart', traces, layout, {staticPlot: true, displayModeBar: false});
</script></body></html>
